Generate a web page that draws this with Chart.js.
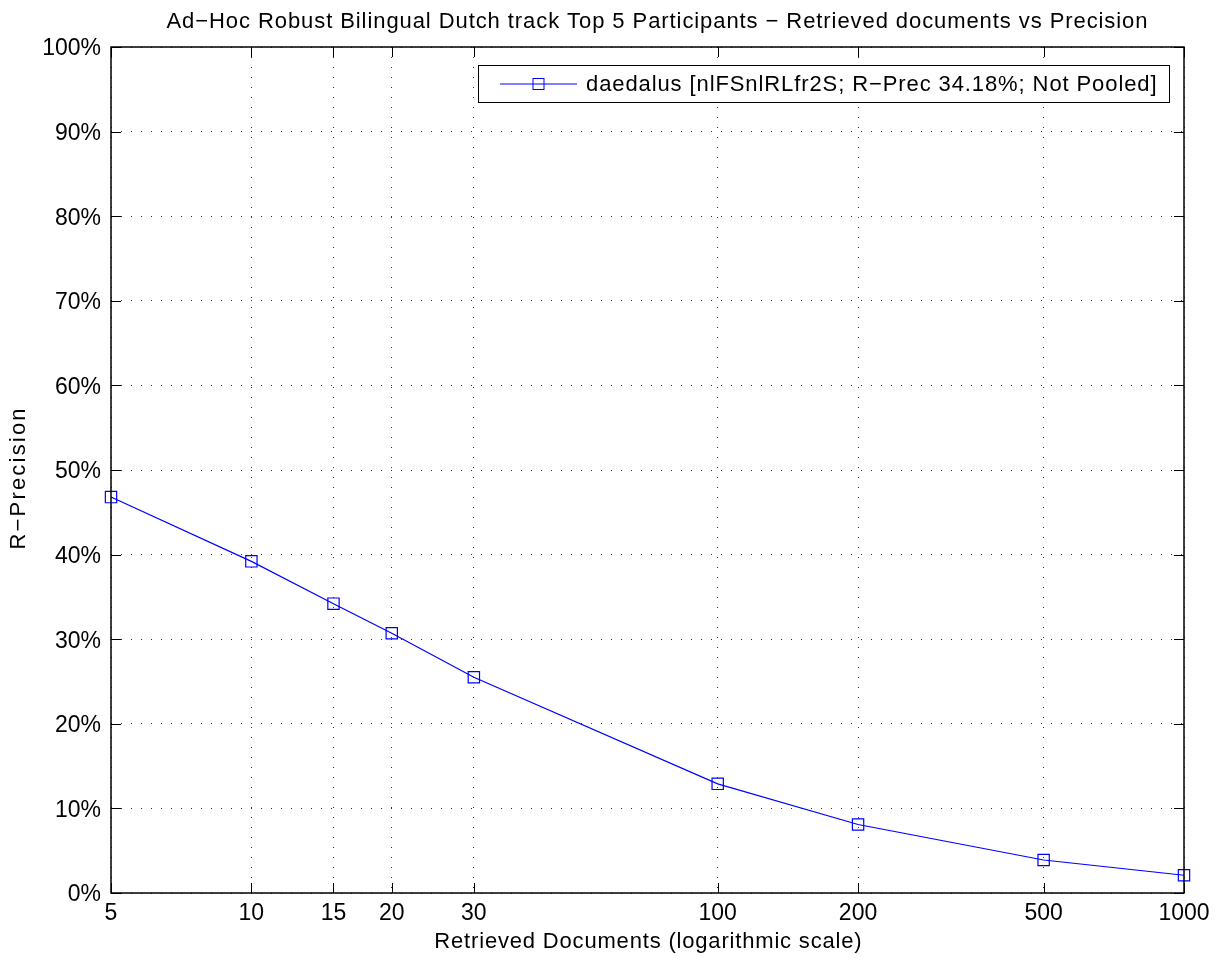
<!DOCTYPE html>
<html>
<head>
<meta charset="utf-8">
<script src="https://cdn.jsdelivr.net/npm/chart.js@4"></script>
<style>
html,body{margin:0;padding:0;background:#fff;}
#wrap{width:1218px;height:958px;position:relative;}
</style>
</head>
<body>
<div id="wrap"><canvas id="c" width="1218" height="958"></canvas></div>
<script>
const chartTitle = "Ad\u2212Hoc Robust Bilingual Dutch track Top 5 Participants \u2212 Retrieved documents vs Precision";
const seriesLabel = "daedalus [nlFSnlRLfr2S; R\u2212Prec 34.18%; Not Pooled]";
const retrievedDocs = [5, 10, 15, 20, 30, 100, 200, 500, 1000];
const precisionValues = [46.8, 39.2, 34.2, 30.7, 25.5, 12.9, 8.1, 3.9, 2.1];
const xTickValues = [5, 10, 15, 20, 30, 100, 200, 500, 1000];
const yTickValues = [0, 10, 20, 30, 40, 50, 60, 70, 80, 90, 100];
const xAxisTitle = "Retrieved Documents (logarithmic scale)";
const yAxisTitle = "R\u2212Precision";

const FONT = "'Liberation Sans', Arial, Helvetica, sans-serif";

function spacedText(ctx, text, x, y, spacing, align) {
  ctx.letterSpacing = spacing + 'px';
  const w = ctx.measureText(text).width - spacing;
  ctx.textAlign = 'left';
  const x0 = align === 'left' ? x : x - w / 2;
  ctx.fillText(text, x0, y);
  ctx.letterSpacing = '0px';
}

const framePlugin = {
  id: 'frame',
  afterDraw(chart) {
    const ctx = chart.ctx;
    const a = chart.chartArea;
    const xs = chart.scales.x, ys = chart.scales.y;
    ctx.save();
    // inward ticks
    ctx.strokeStyle = '#000';
    ctx.lineWidth = 1;
    const tl = 10;
    ctx.beginPath();
    xTickValues.forEach(v => {
      const px = Math.round(xs.getPixelForValue(v)) + 0.5;
      ctx.moveTo(px, a.bottom); ctx.lineTo(px, a.bottom - tl);
      ctx.moveTo(px, a.top); ctx.lineTo(px, a.top + tl);
    });
    yTickValues.forEach(v => {
      const py = Math.round(ys.getPixelForValue(v)) + 0.5;
      ctx.moveTo(a.left, py); ctx.lineTo(a.left + tl, py);
      ctx.moveTo(a.right, py); ctx.lineTo(a.right - tl, py);
    });
    ctx.stroke();
    // box
    ctx.lineWidth = 1.5;
    ctx.strokeRect(a.left, a.top, a.right - a.left, a.bottom - a.top);
    // chart title
    ctx.fillStyle = '#000';
    ctx.textBaseline = 'alphabetic';
    ctx.font = "22px " + FONT;
    spacedText(ctx, chartTitle, 657, 28, 0.92);
    // x axis title
    spacedText(ctx, xAxisTitle, 648, 948, 0.82);
    // y axis title
    ctx.save();
    ctx.translate(25, 479);
    ctx.rotate(-Math.PI / 2);
    spacedText(ctx, yAxisTitle, 0, 0, 2.2);
    ctx.restore();
    // legend
    const ds = chart.data.datasets[0];
    const lx = 478, ly = 65, lw = 691, lh = 37;
    ctx.fillStyle = '#fff';
    ctx.fillRect(lx, ly, lw, lh);
    ctx.lineWidth = 1;
    ctx.strokeStyle = '#000';
    ctx.strokeRect(lx + 0.5, ly + 0.5, lw, lh);
    const cy = ly + lh / 2 + 0.5;
    ctx.strokeStyle = ds.borderColor;
    ctx.beginPath();
    ctx.moveTo(500, cy); ctx.lineTo(577, cy);
    ctx.stroke();
    ctx.strokeRect(538.5 - 5.5, cy - 5.5, 11, 11);
    ctx.fillStyle = '#000';
    ctx.textBaseline = 'middle';
    ctx.font = "22px " + FONT;
    spacedText(ctx, ds.label, 586, cy + 1, 0.9, 'left');
    ctx.restore();
  }
};

new Chart(document.getElementById('c'), {
  type: 'line',
  data: {
    datasets: [{
      label: seriesLabel,
      data: retrievedDocs.map((d, i) => ({x: d, y: precisionValues[i]})),
      borderColor: '#0000ff',
      backgroundColor: 'rgba(0,0,0,0)',
      borderWidth: 1.2,
      pointStyle: 'rect',
      pointRadius: 8,
      pointBorderWidth: 1.2,
      pointBorderColor: '#0000ff',
      pointBackgroundColor: 'rgba(0,0,0,0)',
      tension: 0,
      clip: false
    }]
  },
  options: {
    responsive: false,
    animation: false,
    devicePixelRatio: 1,
    layout: {padding: {top: 47, right: 34, left: 0, bottom: 0}},
    plugins: {legend: {display: false}, title: {display: false}, tooltip: {enabled: false}},
    scales: {
      x: {
        type: 'logarithmic',
        min: 5, max: 1000,
        afterBuildTicks(scale) { scale.ticks = xTickValues.map(v => ({value: v, major: true})); },
        afterFit(scale) { scale.height = 65; },
        ticks: {
          autoSkip: false, maxRotation: 0, padding: 7,
          color: '#000', font: {family: FONT, size: 23},
          callback: (v) => String(v)
        },
        grid: {color: '#333', lineWidth: 1, drawTicks: false},
        border: {display: false, dash: [1, 9]}
      },
      y: {
        type: 'linear',
        min: 0, max: 100,
        afterBuildTicks(scale) { scale.ticks = yTickValues.map(v => ({value: v})); },
        afterFit(scale) { scale.width = 111; },
        ticks: {
          padding: 10, labelOffset: 2, color: '#000', font: {family: FONT, size: 23},
          callback: (v) => v + '%'
        },
        grid: {color: '#333', lineWidth: 1, drawTicks: false},
        border: {display: false, dash: [1, 9]}
      }
    }
  },
  plugins: [framePlugin]
});
</script>
</body>
</html>
